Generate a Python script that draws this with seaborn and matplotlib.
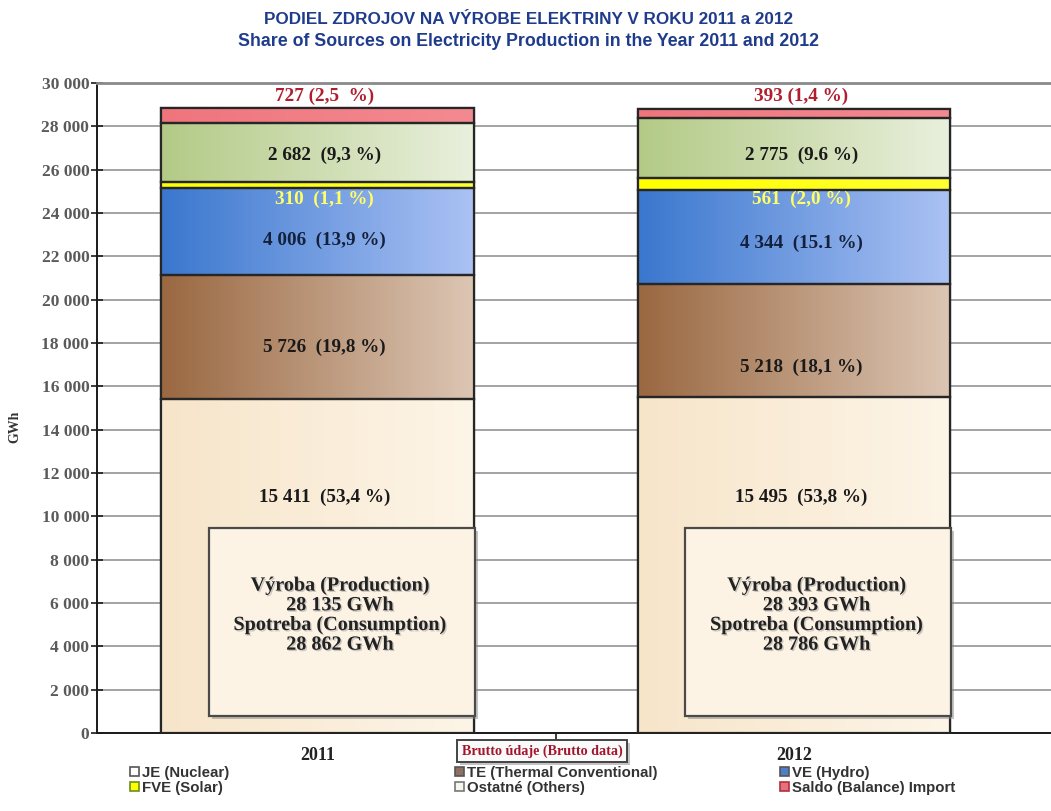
import numpy as np
import pandas as pd
import matplotlib
matplotlib.use("Agg")
import matplotlib.pyplot as plt
import seaborn as sns
from matplotlib.patches import Rectangle, Patch
import matplotlib.patheffects as pe
from matplotlib.colors import LinearSegmentedColormap

# ---------------- data ----------------
years = ["2011", "2012"]
sources = ["JE (Nuclear)", "TE (Thermal Conventional)", "VE (Hydro)",
           "FVE (Solar)", "Ostatné (Others)", "Saldo (Balance) Import"]
nuclear = [15411, 15495]
thermal = [5726, 5218]
hydro = [4006, 4344]
solar = [310, 561]
others = [2682, 2775]
saldo = [727, 393]

nuclear_lbl = ["15 411  (53,4 %)", "15 495  (53,8 %)"]
thermal_lbl = ["5 726  (19,8 %)", "5 218  (18,1 %)"]
hydro_lbl = ["4 006  (13,9 %)", "4 344  (15.1 %)"]
solar_lbl = ["310  (1,1 %)", "561  (2,0 %)"]
others_lbl = ["2 682  (9,3 %)", "2 775  (9.6 %)"]
saldo_lbl = ["727 (2,5  %)", "393 (1,4 %)"]

production = ["28 135 GWh", "28 393 GWh"]
consumption = ["28 862 GWh", "28 786 GWh"]

y_ticks = [0, 2000, 4000, 6000, 8000, 10000, 12000, 14000, 16000,
           18000, 20000, 22000, 24000, 26000, 28000, 30000]
y_tick_labels = ["0", "2 000", "4 000", "6 000", "8 000", "10 000", "12 000",
                 "14 000", "16 000", "18 000", "20 000", "22 000", "24 000",
                 "26 000", "28 000", "30 000"]

title_sk = "PODIEL ZDROJOV NA VÝROBE ELEKTRINY V ROKU 2011 a 2012"
title_en = "Share of Sources on Electricity Production in the Year 2011 and 2012"

# ---------------- style ----------------
segments = [nuclear, thermal, hydro, solar, others, saldo]
grad_left = ["#F7E5CA", "#9A6841", "#3A77CE", "#FFFF00", "#B3CA86", "#EF757D"]
grad_right = ["#FDF5E7", "#DCC6B4", "#ABC2F4", "#FFFF30", "#E9F0DD", "#F48A91"]
legend_face = ["#FFFFFF", "#8E7060", "#4F7FC8", "#FFFF00", "#F4F7EE", "#E8707A"]
legend_edge = ["#555555", "#555555", "#555555", "#6B8E23", "#777777", "#B03040"]

# label vertical positions (GWh axis), per year
pos_nuclear = [10890, 10890]
pos_thermal = [17815, 16890]
pos_hydro = [22750, 22610]
pos_solar = [24640, 24640]
pos_others = [26680, 26680]
pos_saldo = [29400, 29400]

sns.set_theme(style="white")
plt.rcParams["font.family"] = ["Liberation Serif", "DejaVu Serif"]

W, H = 1051, 811
fig = plt.figure(figsize=(W / 100, H / 100), dpi=100)
ax = fig.add_axes([97 / W, 78 / H, 1 - 97 / W, 650 / H])

bottom = np.zeros(len(years))
seg_patches = []
for vals, c in zip(segments, grad_left):
    df = pd.DataFrame({"year": years, "value": vals})
    n0 = len(ax.patches)
    sns.barplot(data=df, x="year", y="value", ax=ax, color=c, saturation=1,
                width=0.655, bottom=bottom, errorbar=None,
                edgecolor="#262626", linewidth=1.6, zorder=3)
    seg_patches.append(list(ax.patches[n0:]))
    bottom = bottom + np.array(vals)

# gradient fills + edges
for si, patches in enumerate(seg_patches):
    cmap = LinearSegmentedColormap.from_list("g%d" % si, [grad_left[si], grad_right[si]])
    grad = np.linspace(0, 1, 256).reshape(1, -1)
    for p in patches:
        x0, y0, w, h = p.get_x(), p.get_y(), p.get_width(), p.get_height()
        im = ax.imshow(grad, extent=[x0, x0 + w, y0, y0 + h], aspect="auto",
                       cmap=cmap, zorder=3.2, interpolation="bilinear")
        im.set_clip_path(p)
        ax.add_patch(Rectangle((x0, y0), w, h, fill=False, ec="#262626",
                               lw=1.6, zorder=3.5))

ax.set_xlim(-0.4627, 1.539)
ax.set_ylim(0, 30000)

# ---------------- labels in bars ----------------
lab_font = dict(family="Liberation Serif", weight="bold", fontsize=13.8,
                ha="center", va="center", zorder=6)
for i in range(len(years)):
    p_n = seg_patches[0][i]
    cx = p_n.get_x() + p_n.get_width() / 2
    lx = cx + 0.015
    ax.text(lx, pos_nuclear[i], nuclear_lbl[i], color="#1a1a1a", **lab_font)
    ax.text(lx, pos_thermal[i], thermal_lbl[i], color="#1a1a1a", **lab_font)
    ax.text(lx, pos_hydro[i], hydro_lbl[i], color="#14213d", **lab_font)
    ax.text(lx, pos_solar[i], solar_lbl[i], color="#FFFF66", **lab_font)
    ax.text(lx, pos_others[i], others_lbl[i], color="#1a1a1a", **lab_font)
    ax.text(lx, pos_saldo[i], saldo_lbl[i], color="#B01E2E", **lab_font)

    # production / consumption box
    bx0, bx1 = cx - 0.228, cx + 0.330
    box = Rectangle((bx0, 785), bx1 - bx0, 9462 - 785, fc="#FCF3E4", ec="#4a4a4a",
                    lw=1.6, zorder=5)
    box.set_path_effects([pe.SimplePatchShadow(offset=(2, -2), shadow_rgbFace="#888888",
                                               alpha=0.5), pe.Normal()])
    ax.add_patch(box)
    txt = "Výroba (Production)\n%s\nSpotreba (Consumption)\n%s" % (production[i], consumption[i])
    ax.text(cx + 0.047, 5440, txt, ha="center", va="center", family="Liberation Serif",
            weight="bold", fontsize=14.5, color="#222222", linespacing=0.98, zorder=6,
            path_effects=[pe.withSimplePatchShadow(offset=(1, -1), shadow_rgbFace="#999999",
                                                   alpha=0.5)])

# ---------------- axes styling ----------------
ax.set_yticks(y_ticks)
ax.set_yticklabels(y_tick_labels)
ax.yaxis.grid(True, color="#8a8a8a", lw=1.1)
ax.xaxis.grid(False)
ax.set_axisbelow(True)
ax.spines["right"].set_visible(False)
ax.spines["top"].set_color("#8a8a8a")
ax.spines["top"].set_linewidth(2)
ax.spines["left"].set_color("#1a1a1a")
ax.spines["left"].set_linewidth(1.4)
ax.spines["bottom"].set_color("#1a1a1a")
ax.spines["bottom"].set_linewidth(1.4)
ax.tick_params(axis="y", direction="inout", length=9, width=1.2, color="#1a1a1a",
               labelsize=12.5, labelcolor="#5a5a5a", pad=1, left=True)
for t in ax.get_yticklabels():
    t.set_fontweight("bold")
    t.set_family("Liberation Serif")

ax.set_xticks(range(len(years)))
ax.set_xticklabels(years, fontsize=13, fontweight="bold", color="#222222",
                   family="Liberation Serif")
ax.tick_params(axis="x", length=0, pad=10)
ax.set_xticks([0.5], minor=True)
ax.tick_params(axis="x", which="minor", direction="out", length=7, width=1.2,
               color="#1a1a1a", bottom=True)
ax.set_xlabel("")
ax.set_ylabel("GWh", fontsize=10, fontweight="bold", color="#333333",
              family="Liberation Serif")
ax.yaxis.set_label_coords((21 - 97) / 954, (733 - 427) / 650)

# ---------------- title ----------------
fig.text(528 / W, 1 - 20 / H, title_sk, ha="center", va="center",
         family="Liberation Sans", weight="bold", fontsize=12.3, color="#1F3C8C")
fig.text(528 / W, 1 - 42 / H, title_en, ha="center", va="center",
         family="Liberation Sans", weight="bold", fontsize=12.8, color="#1F3C8C")

# ---------------- brutto box ----------------
bt = fig.text(542 / W, 1 - 751 / H, "Brutto údaje (Brutto data)", ha="center",
              va="center", family="Liberation Serif", weight="bold", fontsize=10.2,
              color="#A3152B",
              bbox=dict(boxstyle="square,pad=0.32", fc="#FAFAFA", ec="#444444", lw=1.4))
bt.get_bbox_patch().set_path_effects([pe.SimplePatchShadow(offset=(2, -2),
                                      shadow_rgbFace="#888888", alpha=0.5), pe.Normal()])

# ---------------- legend ----------------
handles = [Patch(facecolor=f, edgecolor=e, lw=1.2) for f, e in zip(legend_face, legend_edge)]
leg_x = [130, 455, 780, 130, 455, 780]
leg_y = [773, 773, 773, 788, 788, 788]
order = [0, 1, 2, 3, 4, 5]
for k, lx, ly in zip(order, leg_x, leg_y):
    fig.legend([handles[k]], [sources[k]], loc="center left",
               bbox_to_anchor=(lx / W, 1 - ly / H),
               frameon=False, handlelength=0.6, handleheight=0.6, handletextpad=0.2,
               borderpad=0, borderaxespad=0,
               prop=dict(family="Liberation Sans", weight="bold", size=10.8),
               labelcolor="#333333")

fig.savefig("out.png", dpi=100)
